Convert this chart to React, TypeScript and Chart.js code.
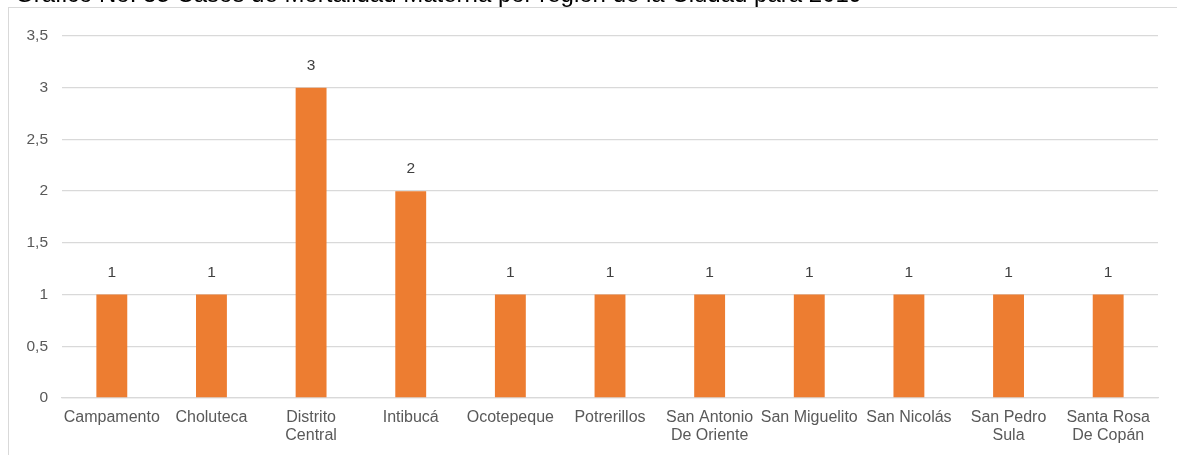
import React, { useEffect, useRef } from 'react';
import { Chart, registerables } from 'chart.js';

Chart.register(...registerables);

const titleText = 'Gráfico No. 35 Casos de Mortalidad Materna por región de la Ciudad para 2019';
const categories: string[][] = [
  ['Campamento'],
  ['Choluteca'],
  ['Distrito', 'Central'],
  ['Intibucá'],
  ['Ocotepeque'],
  ['Potrerillos'],
  ['San Antonio', 'De Oriente'],
  ['San Miguelito'],
  ['San Nicolás'],
  ['San Pedro', 'Sula'],
  ['Santa Rosa', 'De Copán'],
];
const casos: number[] = [1, 1, 3, 2, 1, 1, 1, 1, 1, 1, 1];
const yMin = 0;
const yMax = 3.5;
const yStep = 0.5;

const FONT = '"Liberation Sans", Arial, sans-serif';

const dataLabels = {
  id: 'dataLabels',
  afterDatasetsDraw(chart: any) {
    const ctx = chart.ctx;
    ctx.save();
    ctx.font = `15.5px ${FONT}`;
    ctx.fillStyle = '#404040';
    ctx.textAlign = 'center';
    ctx.textBaseline = 'middle';
    chart.data.datasets.forEach((ds: any, i: number) => {
      const meta = chart.getDatasetMeta(i);
      meta.data.forEach((bar: any, j: number) => {
        ctx.fillText(String(ds.data[j]), bar.x, bar.y - 22);
      });
    });
    ctx.restore();
  },
};

// Title sits mostly above the visible page top, as in the reference crop
const clippedTitle = {
  id: 'clippedTitle',
  afterDraw(chart: any) {
    const ctx = chart.ctx;
    ctx.save();
    ctx.font = `24px ${FONT}`;
    ctx.fillStyle = '#000';
    ctx.textAlign = 'left';
    ctx.textBaseline = 'alphabetic';
    ctx.fillText(titleText, 15, 1.8);
    ctx.restore();
  },
};

export default function App() {
  const ref = useRef<HTMLCanvasElement>(null);
  useEffect(() => {
    if (!ref.current) return;
    const chart = new Chart(ref.current, {
      type: 'bar',
      data: {
        labels: categories,
        datasets: [
          {
            data: casos,
            backgroundColor: '#ED7D31',
            borderWidth: 0,
            categoryPercentage: 1,
            barPercentage: 0.31,
          },
        ],
      },
      options: {
        animation: false,
        responsive: false,
        maintainAspectRatio: false,
        layout: { padding: { left: 0, top: 36, right: 19, bottom: 0 } },
        plugins: {
          legend: { display: false },
          tooltip: { enabled: false },
          title: { display: false },
        },
        scales: {
          x: {
            grid: { display: false, drawTicks: false },
            border: { display: true, color: '#d9d9d9', width: 1.3 },
            ticks: {
              color: '#595959',
              font: { family: FONT, size: 16, lineHeight: '18px' },
              padding: 11,
              maxRotation: 0,
              autoSkip: false,
            },
            afterFit(scale: any) {
              scale.height = 57;
            },
          },
          y: {
            min: yMin,
            max: yMax,
            grid: { color: '#d9d9d9', lineWidth: 1.3, drawTicks: false },
            border: { display: false },
            ticks: {
              stepSize: yStep,
              color: '#595959',
              font: { family: FONT, size: 15.5 },
              padding: 14,
              callback: (v: any) => String(v).replace('.', ','),
            },
            afterFit(scale: any) {
              scale.width = 62;
            },
          },
        },
      },
      plugins: [dataLabels, clippedTitle],
    });
    return () => chart.destroy();
  }, []);

  return (
    <div style={{ position: 'absolute', left: 0, top: 0, width: 1177, height: 455, overflow: 'hidden', background: '#fff' }}>
      <div
        style={{
          position: 'absolute',
          left: 8,
          top: 7,
          width: 1400,
          height: 600,
          borderLeft: '1.5px solid #d9d9d9',
          borderTop: '1.5px solid #d9d9d9',
          boxSizing: 'border-box',
        }}
      />
      <canvas ref={ref} width={1177} height={455} style={{ position: 'absolute', left: 0, top: 0 }} />
    </div>
  );
}
